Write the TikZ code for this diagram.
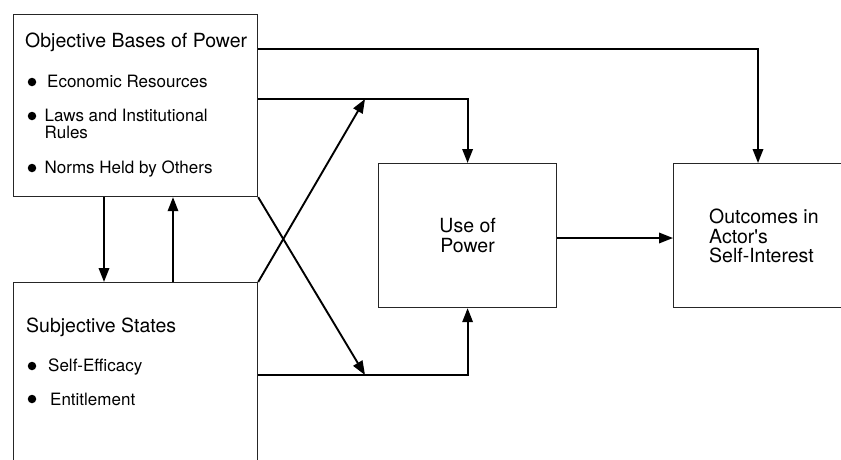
\documentclass[tikz,border=0pt]{standalone}
\usepackage{fontspec}
\setmainfont{TeX Gyre Heros}
\usetikzlibrary{arrows.meta}
\begin{document}
\begin{tikzpicture}[x=1pt,y=-1pt,
  box/.style={draw=black!85, line width=1.2pt, rectangle, inner sep=0pt, anchor=north west},
  arr/.style={draw=black, line width=1.9pt, -{Triangle[length=14pt,width=10.5pt]}},
  head/.style={font=\fontsize{19.5}{20}\selectfont, inner sep=0pt, anchor=base west},
  itm/.style={font=\fontsize{17}{17}\selectfont, inner sep=0pt, anchor=base west},
  dot/.style={circle, fill=black, inner sep=0pt, minimum size=8.5pt}
]
\clip (0,0) rectangle (841,459);

% boxes
\node[box, minimum width=244pt, minimum height=182pt] (obj) at (13,14) {};
\node[box, minimum width=244pt, minimum height=230pt] (subj) at (13,282) {};
\node[box, minimum width=178pt, minimum height=144pt,
      font=\fontsize{19.5}{20}\selectfont, align=center] (use) at (378,163) {Use of\\Power};
\node[box, minimum width=260pt, minimum height=144pt] (out) at (673,163) {};

% texts of the objective bases
\node[head] (objT) at (25,47) {Objective Bases of Power};
\node[dot] (b1) at (32,82) {};
\node[itm] (i1) at (47,87) {Economic Resources};
\node[dot] (b2) at (32,116) {};
\node[itm] (i2a) at (44.5,121) {Laws and Institutional};
\node[itm] (i2b) at (44.5,138) {Rules};
\node[dot] (b3) at (32,168) {};
\node[itm] (i3) at (44.5,173) {Norms Held by Others};

% texts of the subjective states
\node[head] (subT) at (26,332) {Subjective States};
\node[dot] (b4) at (32,366) {};
\node[itm] (i4) at (48,371) {Self-Efficacy};
\node[dot] (b5) at (32,399) {};
\node[itm] (i5) at (50,405) {Entitlement};

% outcome text
\node[font=\fontsize{19.5}{19.5}\selectfont, inner sep=0pt, align=left, anchor=west]
  (outT) at (709,236) {Outcomes in\\Actor\textquotesingle s\\Self-Interest};

% turning points of the connectors
\coordinate (r1) at (758,49);
\coordinate (r2) at (467,99);
\coordinate (r3) at (467,375);
\coordinate (x1) at (365,375);
\coordinate (x2) at (365,99);
\coordinate (vd) at (104,0);
\coordinate (vu) at (173,0);
\coordinate (mid) at (0,238);

% connectors
\draw[arr] (obj.east |- r1) -| (out.north -| r1);
\draw[arr] (obj.east |- r2) -| (use.north);
\draw[arr] (subj.east |- r3) -| (use.south);
\draw[arr] (obj.south east) -- (x1);
\draw[arr] (subj.north east) -- (x2);
\draw[arr] (obj.south -| vd) -- (subj.north -| vd);
\draw[arr] (subj.north -| vu) -- (obj.south -| vu);
\draw[arr] (use.east |- mid) -- (out.west |- mid);
\end{tikzpicture}
\end{document}
